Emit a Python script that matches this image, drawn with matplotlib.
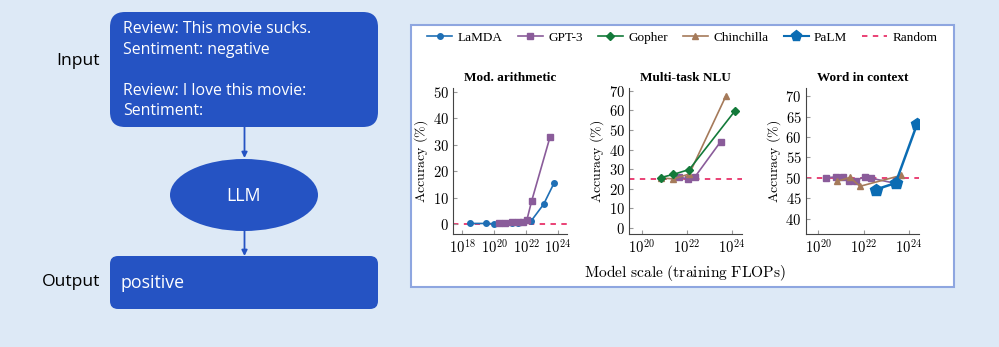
import numpy as np
import matplotlib.pyplot as plt
from matplotlib.patches import FancyBboxPatch, Ellipse, Rectangle
from matplotlib.ticker import FixedLocator, FuncFormatter, NullLocator

plt.rcParams['mathtext.fontset'] = 'cm'

# --- data (x given as log10 of training FLOPs) ---
arith_lamda_x = [18.5, 19.5, 20.0, 20.3, 20.7, 21.1, 21.5, 22.3, 23.1, 23.75]
arith_lamda_y = [0.2, 0.2, 0.1, 0.2, 0.3, 0.4, 0.5, 1.0, 7.5, 15.5]
arith_gpt3_x = [20.3, 20.7, 21.1, 21.5, 21.8, 22.05, 22.35, 23.5]
arith_gpt3_y = [0.5, 0.5, 0.6, 0.6, 0.7, 1.5, 8.7, 33.0]

nlu_gopher_x = [20.86, 21.41, 22.12, 24.15]
nlu_gopher_y = [25.7, 27.3, 29.8, 59.8]
nlu_chin_x = [20.86, 21.41, 22.12, 23.75]
nlu_chin_y = [25.5, 25.0, 27.5, 67.5]
nlu_gpt3_x = [21.67, 22.07, 22.37, 23.51]
nlu_gpt3_y = [26.0, 24.9, 26.0, 44.0]

wic_gpt3_x = [20.34, 20.78, 21.1, 21.37, 21.66, 22.06, 22.32, 23.42]
wic_gpt3_y = [50.0, 50.2, 50.2, 49.2, 49.3, 50.3, 49.9, 48.6]
wic_chin_x = [20.84, 21.4, 21.84, 23.67]
wic_chin_y = [49.1, 50.1, 47.9, 50.6]
wic_palm_x = [22.53, 23.41, 24.36]
wic_palm_y = [47.1, 48.7, 63.2]

random_nlu = 25
random_wic = 50
random_arith = 0

C_LAMDA = '#1f6fb5'
C_GPT3 = '#8a5c9a'
C_GOPHER = '#137a3a'
C_CHIN = '#a57a5a'
C_PALM = '#0b6cb3'
C_RAND = '#e8336a'
BOX = '#2553c3'
BG = '#dde9f6'

fig = plt.figure(figsize=(9.99, 3.47), dpi=100, facecolor=BG)

# background / flowchart layer in pixel coords
bg = fig.add_axes([0, 0, 1, 1])
bg.set_xlim(0, 999)
bg.set_ylim(347, 0)
bg.axis('off')
bg.set_facecolor(BG)

bg.add_patch(FancyBboxPatch((110, 12), 268, 115, boxstyle='round,pad=0,rounding_size=15',
                            fc=BOX, ec='none'))
bg.add_patch(FancyBboxPatch((110, 256), 268, 53, boxstyle='round,pad=0,rounding_size=8',
                            fc=BOX, ec='none'))
bg.add_patch(Ellipse((244, 195), 148, 72, fc=BOX, ec='none'))
for y0, y1 in [(127, 158), (231, 256)]:
    bg.annotate('', xy=(244.5, y1), xytext=(244.5, y0),
                arrowprops=dict(arrowstyle='-|>', color=BOX, lw=1.3,
                                mutation_scale=8, shrinkA=0, shrinkB=0))

sans = 'Open Sans'
lines = [('Review: This movie sucks.', 29), ('Sentiment: negative', 50),
         ('Review: I love this movie:', 91), ('Sentiment:', 111)]
for s, y in lines:
    bg.text(123, y, s, color='white', fontsize=11.4, family=sans, va='center', ha='left')
bg.text(244, 196, 'LLM', color='white', fontsize=12.8, family=sans, ha='center', va='center')
bg.text(120, 283, 'positive', color='white', fontsize=12.8, family=sans, va='center')
bg.text(100, 61, 'Input', color='black', fontsize=12.6, family=sans, ha='right', va='center')
bg.text(100, 282, 'Output', color='black', fontsize=12.6, family=sans, ha='right', va='center')

bg.add_patch(Rectangle((411, 25), 543, 262, fc='white', ec='#8ea6e0', lw=1.5))

serif = 'Liberation Serif'


def style(ax, xlim, ylim, xt, yt):
    ax.set_xscale('log')
    ax.set_xlim(10 ** xlim[0], 10 ** xlim[1])
    ax.set_ylim(*ylim)
    ax.xaxis.set_major_locator(FixedLocator([10.0 ** e for e in xt]))
    ax.xaxis.set_minor_locator(NullLocator())
    ax.xaxis.set_major_formatter(FuncFormatter(lambda v, p: r'$10^{%d}$' % round(np.log10(v))))
    ax.yaxis.set_major_locator(FixedLocator(yt))
    ax.yaxis.set_major_formatter(FuncFormatter(lambda v, p: r'$%d$' % v))
    for s in ['top', 'right']:
        ax.spines[s].set_visible(False)
    for s in ['left', 'bottom']:
        ax.spines[s].set_color('#444444')
        ax.spines[s].set_linewidth(0.8)
    ax.tick_params(direction='in', length=3, color='#999999', labelsize=10.5, pad=3)
    ax.set_ylabel(r'$\mathrm{Accuracy\ (\%)}$', fontsize=10, labelpad=2)
    ax.set_facecolor('none')


def L(x):
    return 10 ** np.array(x)


ax1 = fig.add_axes([0.4535, 0.3256, 0.1141, 0.4208])
ax2 = fig.add_axes([0.6296, 0.3256, 0.1131, 0.4208])
ax3 = fig.add_axes([0.8065, 0.3256, 0.1134, 0.4208])

# Mod. arithmetic
ax1.axhline(random_arith, color=C_RAND, ls=(0, (3, 3)), lw=1.3, zorder=1)
ax1.plot(L(arith_lamda_x), arith_lamda_y, '-o', color=C_LAMDA, ms=4, lw=1.2, zorder=3)
ax1.plot(L(arith_gpt3_x), arith_gpt3_y, '-s', color=C_GPT3, ms=4, lw=1.2, zorder=3)
style(ax1, (17.44, 24.56), (-3.8, 51.5), [18, 20, 22, 24], [0, 10, 20, 30, 40, 50])
ax1.set_title('Mod. arithmetic', fontsize=9.5, family=serif, fontweight='bold', pad=5)

# Multi-task NLU
ax2.axhline(random_nlu, color=C_RAND, ls=(0, (3, 3)), lw=1.3, zorder=1)
ax2.plot(L(nlu_gpt3_x), nlu_gpt3_y, '-s', color=C_GPT3, ms=4, lw=1.2, zorder=3)
ax2.plot(L(nlu_chin_x), nlu_chin_y, '-^', color=C_CHIN, ms=5, lw=1.2, zorder=3)
ax2.plot(L(nlu_gopher_x), nlu_gopher_y, '-D', color=C_GOPHER, ms=4.5, lw=1.2, zorder=4)
style(ax2, (19.44, 24.46), (-3.2, 71.5), [20, 22, 24], [0, 10, 20, 30, 40, 50, 60, 70])
ax2.set_title('Multi-task NLU', fontsize=9.5, family=serif, fontweight='bold', pad=5)
ax2.set_xlabel(r'$\mathrm{Model\ scale\ (training\ FLOPs)}$', fontsize=11.2, labelpad=5)

# Word in context
ax3.axhline(random_wic, color=C_RAND, ls=(0, (3, 3)), lw=1.3, zorder=1)
ax3.plot(L(wic_gpt3_x), wic_gpt3_y, '-s', color=C_GPT3, ms=4, lw=1.2, zorder=3)
ax3.plot(L(wic_chin_x), wic_chin_y, '-^', color=C_CHIN, ms=5, lw=1.2, zorder=3)
ax3.plot(L(wic_palm_x), wic_palm_y, '-p', color=C_PALM, ms=9, lw=1.8, zorder=4)
style(ax3, (19.45, 24.44), (36.2, 72.0), [20, 22, 24], [40, 45, 50, 55, 60, 65, 70])
ax3.set_title('Word in context', fontsize=9.5, family=serif, fontweight='bold', pad=5)

# legend
handles = [
    plt.Line2D([], [], color=C_LAMDA, marker='o', ms=4, lw=1.2),
    plt.Line2D([], [], color=C_GPT3, marker='s', ms=4, lw=1.2),
    plt.Line2D([], [], color=C_GOPHER, marker='D', ms=4.5, lw=1.2),
    plt.Line2D([], [], color=C_CHIN, marker='^', ms=5, lw=1.2),
    plt.Line2D([], [], color=C_PALM, marker='p', ms=8, lw=1.5),
    plt.Line2D([], [], color=C_RAND, ls=(0, (3, 3)), lw=1.3),
]
labels = ['LaMDA', 'GPT-3', 'Gopher', 'Chinchilla', 'PaLM', 'Random']
fig.legend(handles, labels, loc='center', bbox_to_anchor=(682.5 / 999, 1 - 38 / 347),
           ncol=6, frameon=False, prop={'family': serif, 'size': 9.5},
           handlelength=1.9, handletextpad=0.4, columnspacing=1.15)

fig.savefig('out.png', dpi=100, facecolor=BG)
